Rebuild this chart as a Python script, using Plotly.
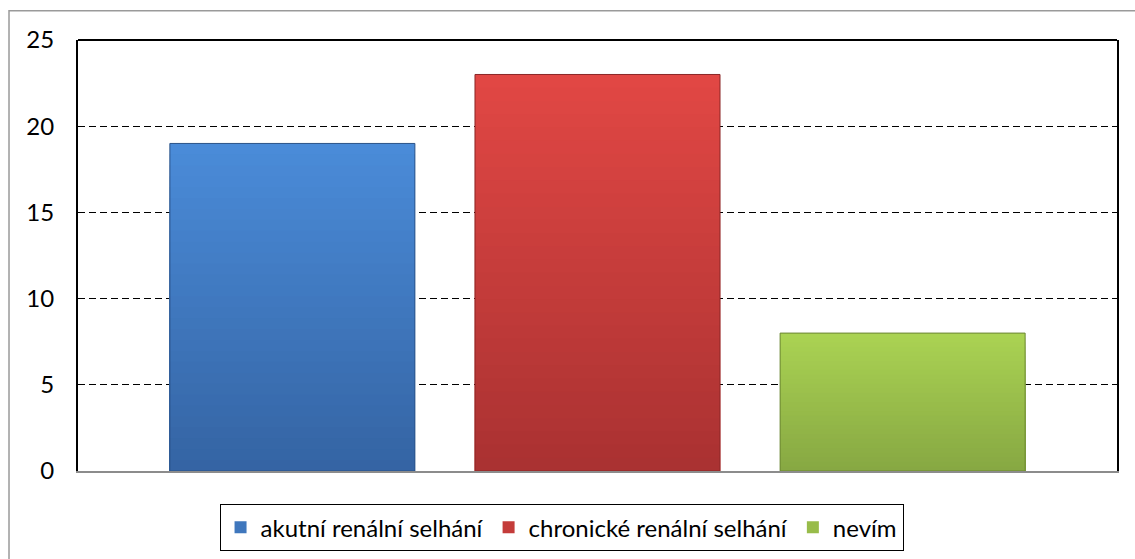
import plotly.graph_objects as go

# Data
category = ["odpověď"]
series_names = ["akutní renální selhání", "chronické renální selhání", "nevím"]
series_values = [19, 23, 8]
y_ticks = [0, 5, 10, 15, 20, 25]

# Gradient colours per series: (bottom, top)
series_colors = [
    ((0x34, 0x63, 0xA2), (0x4A, 0x8B, 0xD8)),
    ((0xA8, 0x31, 0x31), (0xE1, 0x47, 0x44)),
    ((0x86, 0xA7, 0x42), (0xAA, 0xD2, 0x53)),
]
edge_colors = ["#2a5288", "#8a2626", "#6b8632"]

N_STEPS = 30


def mix(c0, c1, t):
    return "rgb({},{},{})".format(*[round(a + (b - a) * t) for a, b in zip(c0, c1)])


fig = go.Figure()

for i, (name, val) in enumerate(zip(series_names, series_values)):
    bottom, top = series_colors[i]
    # Vertical gradient: successively shorter bars painted over each other
    for k in range(N_STEPS):
        frac = (N_STEPS - k) / N_STEPS
        fig.add_trace(go.Bar(
            x=category, y=[val * frac], base=0,
            offsetgroup=str(i), legendgroup=str(i),
            name=name, showlegend=(k == N_STEPS // 2),
            marker=dict(color=mix(bottom, top, frac), line=dict(width=0)),
            hoverinfo="skip",
        ))
    # Outline on top of the gradient
    fig.add_trace(go.Bar(
        x=category, y=[val], base=0,
        offsetgroup=str(i), legendgroup=str(i), name=name, showlegend=False,
        marker=dict(color="rgba(0,0,0,0)", line=dict(width=1, color=edge_colors[i])),
        hoverinfo="skip",
    ))

font_family = "Lato, 'Open Sans', sans-serif"

fig.update_layout(
    width=1135, height=559,
    margin=dict(l=78, r=18, t=40, b=88, autoexpand=False),
    paper_bgcolor="white", plot_bgcolor="white",
    barmode="group", bargap=0.119, bargroupgap=0.197,
    font=dict(family=font_family, size=24, color="black"),
    showlegend=True,
    legend=dict(
        orientation="h", x=0.4654, xanchor="center", y=-0.077, yanchor="top",
        bordercolor="black", borderwidth=1, bgcolor="white",
        font=dict(family=font_family, size=24, color="black"),
        traceorder="normal", itemwidth=30, tracegroupgap=0,
    ),
    xaxis=dict(
        type="category", showticklabels=False, ticks="",
        showgrid=False, showline=True, linecolor="#8c8c8c", linewidth=2,
        mirror=False, zeroline=False,
    ),
    yaxis=dict(
        range=[0, 25], tickvals=y_ticks, ticks="",
        showgrid=True, gridcolor="black", gridwidth=1, griddash="7px,4px",
        showline=True, linecolor="black", linewidth=2, mirror=True,
        zeroline=False, ticklabelstandoff=17,
    ),
    shapes=[
        # top edge of the plot frame
        dict(type="line", xref="paper", yref="paper", x0=0, x1=1, y0=1, y1=1,
             line=dict(color="black", width=2)),
        # outer chart border
        dict(type="rect", xref="paper", yref="paper",
             x0=-0.0664, x1=1.2, y0=-0.4, y1=1.068,
             line=dict(color="#9a9a9a", width=1.5), layer="below"),
    ],
)

fig.write_html("out.html")
